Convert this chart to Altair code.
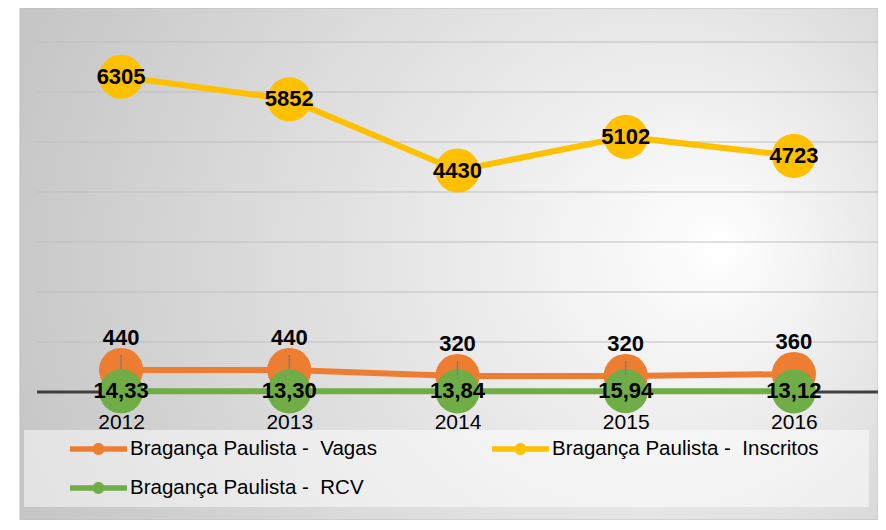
import altair as alt
import pandas as pd

# ---- data ----
years = ["2012", "2013", "2014", "2015", "2016"]
vagas = [440, 440, 320, 320, 360]
inscritos = [6305, 5852, 4430, 5102, 4723]
rcv = [14.33, 13.30, 13.84, 15.94, 13.12]
rcv_labels = ["14,33", "13,30", "13,84", "15,94", "13,12"]
vagas_leader = [True, True, True, True, False]
series_names = [
    "Bragança Paulista - \u00a0Vagas",
    "Bragança Paulista - \u00a0Inscritos",
    "Bragança Paulista - \u00a0RCV",
]
series_colors = ["#ED7D31", "#FFC000", "#70AD47"]
grid_values = [1000, 2000, 3000, 4000, 5000, 6000, 7000]
y_max = 7000

FONT = "Liberation Sans"

rows = []
for i, yr in enumerate(years):
    rows.append({"year": yr, "value": vagas[i], "series": series_names[0],
                 "label": str(vagas[i]), "leader": vagas_leader[i]})
for i, yr in enumerate(years):
    rows.append({"year": yr, "value": inscritos[i], "series": series_names[1],
                 "label": str(inscritos[i]), "leader": False})
for i, yr in enumerate(years):
    rows.append({"year": yr, "value": rcv[i], "series": series_names[2],
                 "label": rcv_labels[i], "leader": False})
df = pd.DataFrame(rows)
grid_df = pd.DataFrame({"value": grid_values})
base_df = pd.DataFrame({"value": [0]})
one = pd.DataFrame({"a": [0]})

x_enc = alt.X("year:O", scale=alt.Scale(domain=years, type="point", padding=0.5),
              axis=alt.Axis(title=None, ticks=False, domain=False, grid=False,
                            labelFontSize=21, labelFont=FONT, labelColor="#000000",
                            labelPadding=19, labelAngle=0, zindex=1))
y_scale = alt.Scale(domain=[0, y_max], nice=False, zero=True)
y_enc = alt.Y("value:Q", scale=y_scale, axis=None)

sym_path = ("M-1,-0.1 L1,-0.1 L1,0.1 L-1,0.1 Z "
            "M0.21,0 A0.21,0.21 0 1,1 -0.21,0 A0.21,0.21 0 1,1 0.21,0 Z")

legend_def = alt.Legend(title=None, orient="none", legendX=33, legendY=378.5,
                        direction="horizontal", columns=2, columnPadding=115,
                        rowPadding=-19, symbolType=sym_path, symbolSize=3249,
                        symbolStrokeWidth=0, symbolOpacity=1,
                        labelFontSize=20.5, labelFont=FONT, labelColor="#000000",
                        labelOffset=3, zindex=1, padding=0, labelLimit=400)
color_enc = alt.Color("series:N",
                      scale=alt.Scale(domain=series_names, range=series_colors),
                      legend=legend_def)

background = alt.Chart(one).mark_rect(
    fill={"gradient": "radial", "x1": 0.82, "y1": 0.48, "r1": 0,
          "x2": 0.62, "y2": 0.5, "r2": 0.66,
          "stops": [{"offset": 0, "color": "#ffffff"},
                    {"offset": 1, "color": "#c6c6c6"}]},
    stroke="#c0c0c0", strokeWidth=1,
).encode(x=alt.value(-17), x2=alt.value(841), y=alt.value(-34), y2=alt.value(478))

legend_box = alt.Chart(one).mark_rect(fill="#ffffff", fillOpacity=0.5).encode(
    x=alt.value(-13), x2=alt.value(832), y=alt.value(388), y2=alt.value(465))

grid = alt.Chart(grid_df).mark_rule(color="#bfbfbf", strokeWidth=1).encode(
    y=alt.Y("value:Q", scale=y_scale, axis=None))
baseline = alt.Chart(base_df).mark_rule(color="#404040", strokeWidth=3).encode(
    y=alt.Y("value:Q", scale=y_scale, axis=None))

lines = alt.Chart(df).mark_line(strokeWidth=6).encode(
    x=x_enc, y=y_enc, color=color_enc, detail="series:N")
circles = alt.Chart(df).mark_circle(size=1950, opacity=1).encode(
    x=x_enc, y=y_enc, color=color_enc)

leaders = alt.Chart(df).transform_filter(alt.datum.leader == True).mark_rule(
    color="#7f7f7f", strokeWidth=1.5, yOffset=-1, y2Offset=-15).encode(
    x=x_enc, y=y_enc, y2="value:Q")

txt_style = dict(font=FONT, fontSize=22, fontWeight="bold", color="#000000",
                 align="center", baseline="middle")
lab_ins = alt.Chart(df).transform_filter(alt.datum.series == series_names[1]).mark_text(
    **txt_style).encode(x=x_enc, y=y_enc, text="label:N")
lab_vag = alt.Chart(df).transform_filter(alt.datum.series == series_names[0]).mark_text(
    dy=-32, **txt_style).encode(x=x_enc, y=y_enc, text="label:N")
lab_rcv = alt.Chart(df).transform_filter(alt.datum.series == series_names[2]).mark_text(
    **txt_style).encode(x=x_enc, y=y_enc, text="label:N")

chart = alt.layer(
    background, legend_box, grid, baseline, lines, circles, leaders,
    lab_ins, lab_vag, lab_rcv,
).properties(
    width=841, height=350,
    autosize=alt.AutoSizeParams(type="none"),
    padding={"left": 29, "top": 34, "right": 0, "bottom": 128},
    background="#ffffff",
).configure_view(stroke=None)

chart.save("out.html", embed_options={"renderer": "svg", "actions": False})
